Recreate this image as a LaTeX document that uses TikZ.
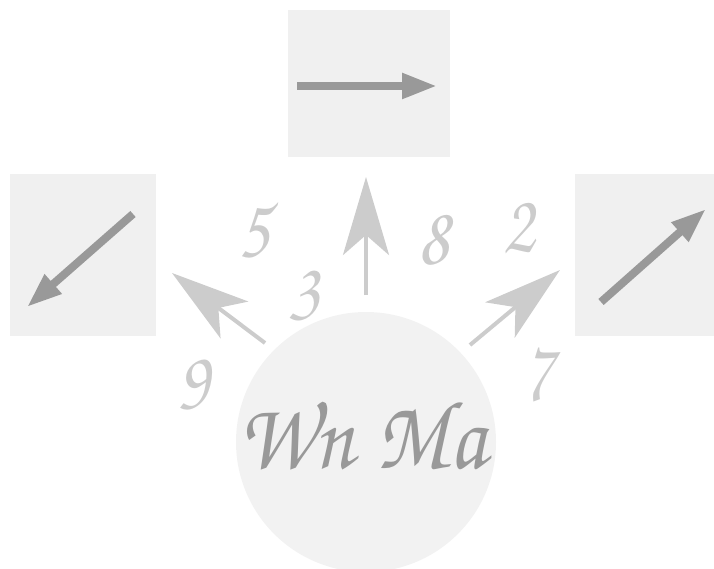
\documentclass[tikz,border=0pt]{standalone}
\usepackage[T1,TU]{fontenc}
\usetikzlibrary{arrows.meta}
\definecolor{panel}{HTML}{F0F0F0}
\definecolor{disc}{HTML}{F2F2F2}
\definecolor{ink}{HTML}{999999}
\definecolor{pale}{HTML}{CCCCCC}
\newcommand{\chancery}{\fontencoding{T1}\fontfamily{pzc}\fontseries{mb}\fontshape{it}\selectfont}
\begin{document}
\begin{tikzpicture}[x=1pt,y=-1pt,
  panelbox/.style={fill=panel,draw=none,inner sep=0pt},
  darkarrow/.style={draw=ink,line width=8pt,-{Triangle[length=35pt,width=24pt]}},
  palearrow/.style={draw=pale,line width=4pt,-{Stealth[length=78pt,width=46pt,inset=20pt]}},
  digit/.style={text=pale,font=\chancery\fontsize{86}{86}\selectfont,inner sep=0pt,xscale=0.85,transform shape}]
\useasboundingbox (0,0) rectangle (714,569);

% three panels
\node[panelbox,minimum width=162pt,minimum height=147pt] (top) at (369,83.5) {};
\node[panelbox,minimum width=146pt,minimum height=162pt] (left) at (83,255) {};
\node[panelbox,minimum width=139pt,minimum height=162pt] (right) at (644.5,255) {};

% arrows inside the panels
\coordinate (t1) at (297,86);  \coordinate (t2) at (437,86);
\coordinate (l1) at (133,214); \coordinate (l2) at (27,307);
\coordinate (r1) at (601,302); \coordinate (r2) at (706,209);
\draw[darkarrow] (t1) -- (t2);
\draw[darkarrow] (l1) -- (l2);
\draw[darkarrow] (r1) -- (r2);

% central disc with its name
\node[circle,fill=disc,minimum size=260pt,inner sep=0pt] (c) at (366,442) {};
\node[text=ink,font=\chancery\fontsize{98}{98}\selectfont,inner sep=0pt,anchor=base,
      xscale=0.88,transform shape] (name) at (362,468) {Wn \hspace{4pt}Ma};

% pale arrows leaving the disc
\coordinate (u0) at (366,295); \coordinate (u1) at (366,177);
\coordinate (a0) at (265,343); \coordinate (a1) at (172,273);
\coordinate (b0) at (470,345); \coordinate (b1) at (560,270);
\draw[palearrow] (u0) -- (u1);
\draw[palearrow] (a0) -- (a1);
\draw[palearrow] (b0) -- (b1);

% digits
\node[digit] (d5) at (254,230) {5};
\node[digit] (d3) at (304,295) {3};
\node[digit] (d8) at (434,239) {8};
\node[digit] (d2) at (519,227) {2};
\node[digit] (d9) at (194,384) {9};
\node[digit] (d7) at (538,374) {7};
\end{tikzpicture}
\end{document}
